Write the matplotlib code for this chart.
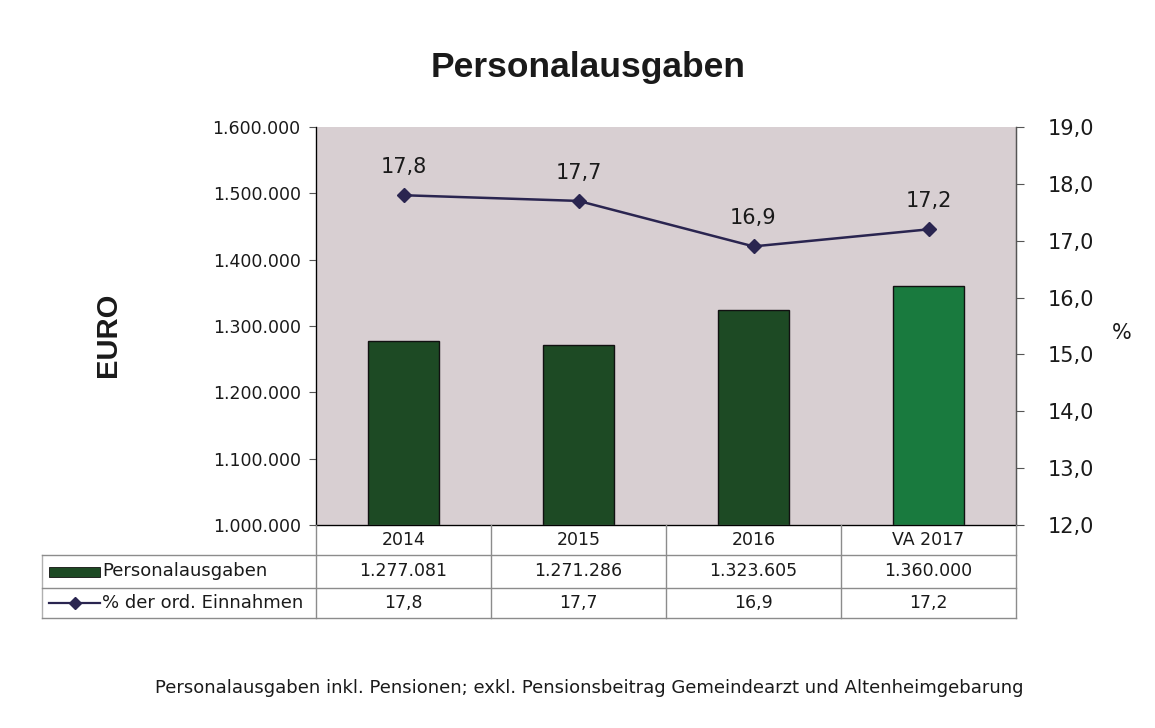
import matplotlib
matplotlib.use("Agg")
import matplotlib.pyplot as plt
from matplotlib.patches import Rectangle
from matplotlib.ticker import FuncFormatter

plt.rcParams['font.family'] = ['DejaVu Sans']

categories = ["2014", "2015", "2016", "VA 2017"]
ausgaben = [1277081, 1271286, 1323605, 1360000]
ausgaben_labels = ["1.277.081", "1.271.286", "1.323.605", "1.360.000"]
prozent = [17.8, 17.7, 16.9, 17.2]
series_names = ["Personalausgaben", "% der ord. Einnahmen"]
title = "Personalausgaben"
footnote = "Personalausgaben inkl. Pensionen; exkl. Pensionsbeitrag Gemeindearzt und Altenheimgebarung"

bar_colors = ["#1d4a24", "#1d4a24", "#1d4a24", "#197a3e"]
line_color = "#2a2550"
bg_color = "#d8cfd2"
txt = "#1a1a1a"

W, H = 1155, 728
fig = plt.figure(figsize=(W / 100, H / 100), dpi=100)

def fx(px):
    return px / W

def fy(py):
    return 1 - py / H

left, right, top, bottom = 316, 1016, 127, 525
ax = fig.add_axes([fx(left), fy(bottom), fx(right - left), fy(top) - fy(bottom)])
ax.set_facecolor(bg_color)
x = list(range(len(categories)))
ax.bar(x, ausgaben, width=0.41, color=bar_colors, edgecolor="#111111", linewidth=1.0, zorder=2)
ax.set_xlim(-0.5, len(categories) - 0.5)
ax.set_ylim(1000000, 1600000)
ax.set_yticks(range(1000000, 1600001, 100000))
ax.yaxis.set_major_formatter(FuncFormatter(lambda v, p: f"{int(v):,}".replace(",", ".")))
ax.set_xticks([])
ax.tick_params(axis='y', labelsize=12.5, direction='out', length=5, color="#555555", labelcolor=txt, pad=6)
ax.spines["top"].set_visible(False)
for s in ["left", "right", "bottom"]:
    ax.spines[s].set_color("#555555")
    ax.spines[s].set_linewidth(1.0)

ax2 = ax.twinx()
ax2.plot(x, prozent, color=line_color, linewidth=1.8, marker='D', markersize=7,
         markerfacecolor=line_color, markeredgecolor=line_color, zorder=3)
ax2.set_ylim(12, 19)
ax2.set_yticks(range(12, 20))
ax2.yaxis.set_major_formatter(FuncFormatter(lambda v, p: f"{v:.1f}".replace(".", ",")))
ax2.tick_params(axis='y', labelsize=15, direction='out', length=6, color="#555555", labelcolor=txt, pad=17)
ax2.spines["top"].set_visible(False)
ax2.spines["right"].set_color("#555555")
for xi, v in zip(x, prozent):
    ax2.annotate(f"{v:.1f}".replace(".", ","), (xi, v), xytext=(0, 13), textcoords="offset points",
                 ha="center", va="bottom", fontsize=15, color=txt)

# Titles / axis labels
fig.text(fx(588), fy(68), title, ha="center", va="center", fontsize=25.5, fontweight="bold",
         color=txt, family="Liberation Sans")
fig.text(fx(108), fy(335), "EURO", ha="center", va="center", fontsize=21, fontweight="bold",
         rotation=90, color=txt, family="Liberation Sans")
fig.text(fx(1122), fy(333), "%", ha="center", va="center", fontsize=15, color=txt)
fig.text(fx(589), fy(688), footnote, ha="center", va="center", fontsize=13, color=txt)

# Data table below the axes
tleft = 42
tab = fig.add_axes([fx(tleft), fy(618), fx(right - tleft), fy(525) - fy(618)])
units_per_px = len(categories) / (right - left)
x0 = -0.5 - (left - tleft) * units_per_px
tab.set_xlim(x0, len(categories) - 0.5)
tab.set_ylim(93, 0)
tab.axis("off")
row_edges = [0, 30, 63, 93]
gc = "#8c8c8c"
for xb in [c - 0.5 for c in range(len(categories) + 1)]:
    tab.plot([xb, xb], [0, 93], color=gc, lw=1.0, clip_on=False)
tab.plot([x0, x0], [row_edges[1], 93], color="#b0b0b0", lw=1.0, clip_on=False)
for yb in row_edges[1:]:
    tab.plot([x0, len(categories) - 0.5], [yb, yb], color=gc, lw=1.0, clip_on=False)

def mid(i):
    return (row_edges[i] + row_edges[i + 1]) / 2

for xi, c in zip(x, categories):
    tab.text(xi, mid(0), c, ha="center", va="center", fontsize=12.5, color=txt)
for xi, lab in zip(x, ausgaben_labels):
    tab.text(xi, mid(1), lab, ha="center", va="center", fontsize=12.5, color=txt)
for xi, v in zip(x, prozent):
    tab.text(xi, mid(2), f"{v:.1f}".replace(".", ","), ha="center", va="center", fontsize=12.5, color=txt)

# legend keys in row labels
kx0 = x0 + 7 * units_per_px
kx1 = x0 + 58 * units_per_px
tab.add_patch(Rectangle((kx0, mid(1) - 5), kx1 - kx0, 10, facecolor=bar_colors[0], edgecolor="#111111", lw=0.6))
tab.text(kx1 + 2 * units_per_px, mid(1), series_names[0], ha="left", va="center", fontsize=13, color=txt)
tab.plot([kx0, kx1], [mid(2), mid(2)], color=line_color, lw=1.6)
tab.plot([(kx0 + kx1) / 2], [mid(2)], marker='D', markersize=6, color=line_color)
tab.text(kx1 + 2 * units_per_px, mid(2), series_names[1], ha="left", va="center", fontsize=13, color=txt)

fig.savefig("out.png", dpi=100, facecolor="white")
